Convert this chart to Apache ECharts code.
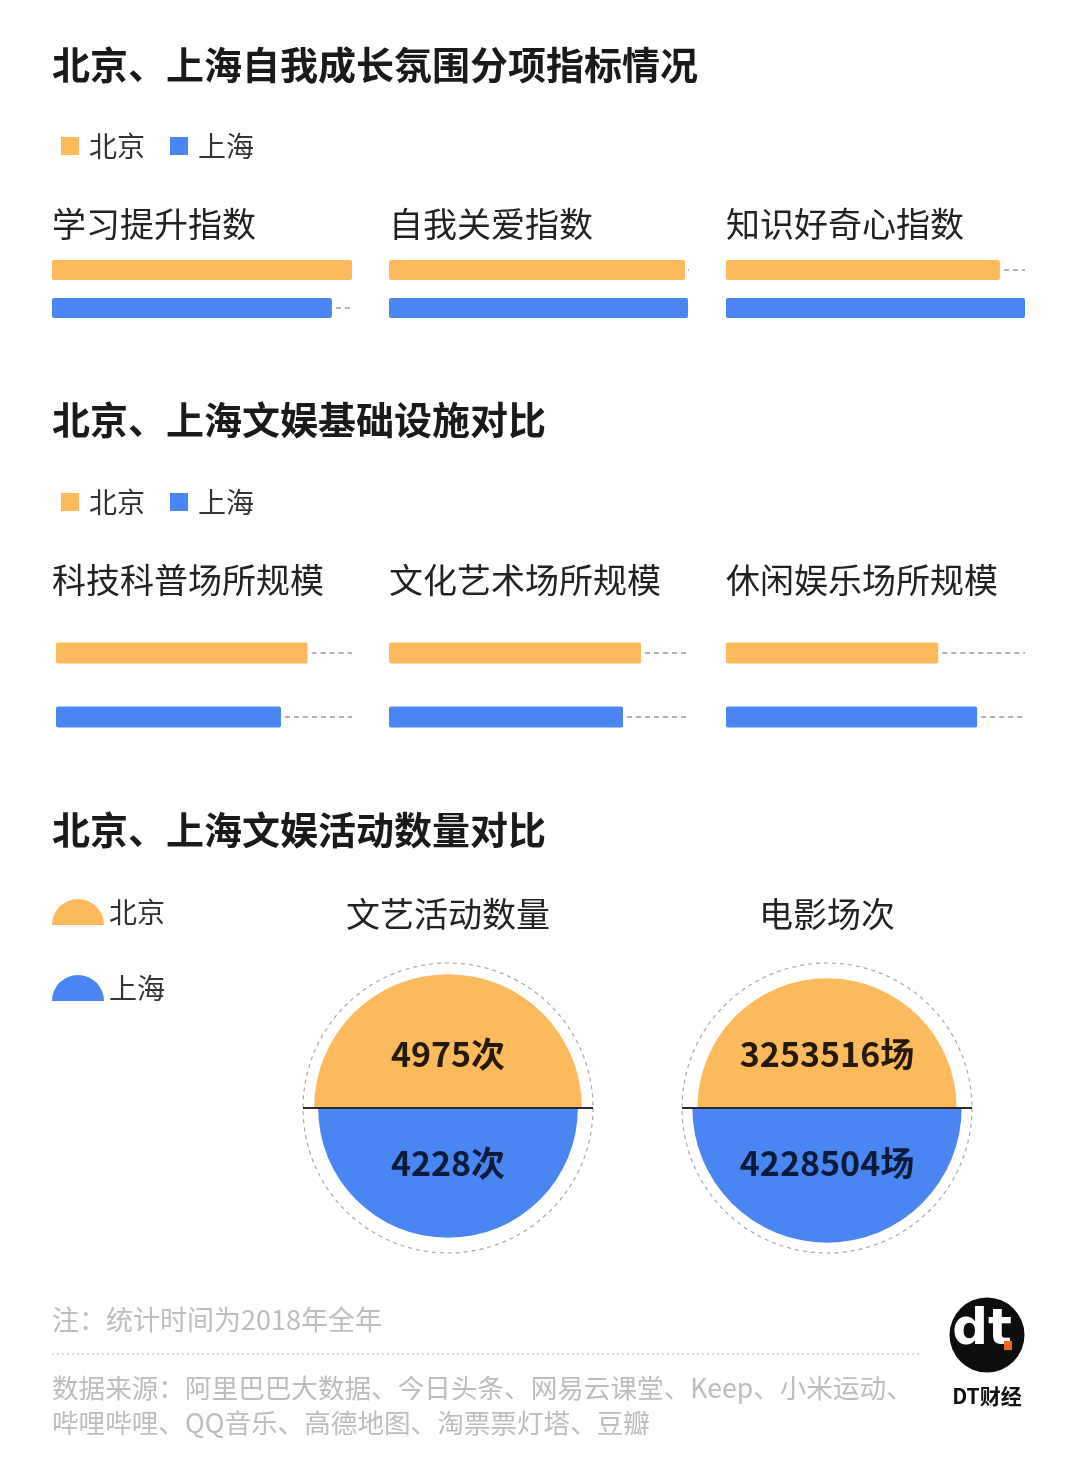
<!DOCTYPE html>
<html><head><meta charset="utf-8">
<script src="https://cdn.jsdelivr.net/npm/echarts@6/dist/echarts.min.js"></script>
<style>html,body{margin:0;padding:0;background:#fff}#c{width:1080px;height:1465px}</style>
</head><body><div id="c"></div>
<script>
// ---------------- data ----------------
const cities = ['北京', '上海'];
const growthIndicators = ['学习提升指数', '自我关爱指数', '知识好奇心指数'];
const growthBeijing = [100, 99, 91.6];
const growthShanghai = [93.3, 100, 100];
const facilityIndicators = ['科技科普场所规模', '文化艺术场所规模', '休闲娱乐场所规模'];
const facilityBeijing = [85, 84, 71];
const facilityShanghai = [76, 78, 84];
const activityIndicators = ['文艺活动数量', '电影场次'];
const activityUnits = ['次', '场'];
const activityBeijing = [4975, 3253516];
const activityShanghai = [4228, 4228504];
const indexMax = 100;
const sectionTitles = ['北京、上海自我成长氛围分项指标情况', '北京、上海文娱基础设施对比', '北京、上海文娱活动数量对比'];
const noteText = '注：统计时间为2018年全年';
const sourceLines = ['数据来源：阿里巴巴大数据、今日头条、网易云课堂、Keep、小米运动、', '哔哩哔哩、QQ音乐、高德地图、淘票票灯塔、豆瓣'];

// ---------------- style / layout ----------------
const FONT = '"Noto Sans CJK SC","Noto Sans",sans-serif';
const ORANGE = '#FDBA5C';
const BLUE = '#4A86F2';
const cityColors = [ORANGE, BLUE];

const grid = [], xAxis = [], yAxis = [], series = [];

function dashItem(params, api) {
  const v = api.value(0), c = api.value(1);
  if (v >= indexMax) return null;
  const s = api.coord([v, c]);
  const e = api.coord([indexMax, c]);
  return {
    type: 'line',
    shape: { x1: s[0] + 4, y1: s[1], x2: e[0], y2: e[1] },
    style: { stroke: '#9b9b9b', lineWidth: 1.3, lineDash: [5, 4] }
  };
}

function addBarGroup(left, width, top, height, barWidth, bj, sh) {
  const gi = grid.length;
  grid.push({ left: left, top: top, width: width, height: height });
  xAxis.push({ gridIndex: gi, type: 'value', min: 0, max: indexMax, show: false });
  yAxis.push({ gridIndex: gi, type: 'category', data: cities, inverse: true, show: false });
  series.push({
    type: 'bar', name: cities[0], xAxisIndex: gi, yAxisIndex: gi,
    data: [bj, null], barWidth: barWidth, barGap: '-100%',
    itemStyle: { color: ORANGE, borderRadius: 2 }
  });
  series.push({
    type: 'bar', name: cities[1], xAxisIndex: gi, yAxisIndex: gi,
    data: [null, sh], barWidth: barWidth, barGap: '-100%',
    itemStyle: { color: BLUE, borderRadius: 2 }
  });
  series.push({
    type: 'custom', xAxisIndex: gi, yAxisIndex: gi, silent: true,
    encode: { x: 0, y: 1 },
    data: [[bj, 0], [sh, 1]],
    renderItem: dashItem
  });
}

const cols1 = [[52, 300], [389, 299], [726, 299]];
growthIndicators.forEach((n, i) => addBarGroup(cols1[i][0], cols1[i][1], 251, 76, 20, growthBeijing[i], growthShanghai[i]));
const cols2 = [[56, 296], [389, 300], [726, 299]];
facilityIndicators.forEach((n, i) => addBarGroup(cols2[i][0], cols2[i][1], 621, 128, 21, facilityBeijing[i], facilityShanghai[i]));

// semicircle section
const halfLayouts = [
  { cx: 448, min: -20000, max: 5000, width: 134 },
  { cx: 827, min: -22000000, max: 4300000, width: 135 }
];
const CY = 1108, RING = 145;

function halfRender(isTop, unit) {
  return function (params, api) {
    const cs = params.coordSys;
    const cx = cs.x, cy = cs.y + cs.height;
    const v = api.value(0);
    const r = api.coord([v, 0])[0] - cx;
    const color = api.visual('color');
    const children = [{
      type: 'sector',
      shape: { cx: cx, cy: cy, r0: 0, r: r,
        startAngle: isTop ? Math.PI : 0, endAngle: isTop ? Math.PI * 2 : Math.PI, clockwise: true },
      style: { fill: color }
    }];
    if (!isTop) {
      children.push({
        type: 'circle', shape: { cx: cx, cy: cy, r: RING },
        style: { fill: 'none', stroke: '#a8a8a8', lineWidth: 1.2, lineDash: [4, 4] }
      });
      children.push({
        type: 'line', shape: { x1: cx - RING, y1: cy, x2: cx + RING, y2: cy },
        style: { stroke: '#2a2a2a', lineWidth: 2 }
      });
    }
    children.push({
      type: 'text', x: cx, y: isTop ? cy - 54 : cy + 55,
      style: { text: v + unit, fill: isTop ? '#24190c' : '#0b1a38',
        fontSize: 34, fontWeight: 'bold', fontFamily: FONT, align: 'center', verticalAlign: 'middle' }
    });
    return { type: 'group', children: children };
  };
}

activityIndicators.forEach((n, i) => {
  const L = halfLayouts[i];
  const gi = grid.length;
  grid.push({ left: L.cx, top: CY - 100, width: L.width, height: 100 });
  xAxis.push({ gridIndex: gi, type: 'value', min: L.min, max: L.max, show: false });
  yAxis.push({ gridIndex: gi, type: 'value', min: 0, max: 1, show: false });
  [activityBeijing, activityShanghai].forEach((arr, ci) => {
    series.push({
      type: 'custom', name: cities[ci], xAxisIndex: gi, yAxisIndex: gi, clip: false,
      itemStyle: { color: cityColors[ci] },
      encode: { x: 0, y: 1 },
      data: [[arr[i], 0]],
      renderItem: halfRender(ci === 0, activityUnits[i])
    });
  });
});

// ---------------- texts ----------------
const graphic = [];
function txt(x, y, text, size, opts) {
  opts = opts || {};
  graphic.push({
    type: 'text', x: x, y: y, silent: true,
    style: { text: text, fontSize: size, fontFamily: FONT, fontWeight: opts.weight || 'normal',
      fill: opts.color || '#222', align: opts.align || 'left', verticalAlign: 'middle' }
  });
}
[65, 420, 830].forEach((y, i) => txt(52, y, sectionTitles[i], 38, { weight: 'bold', color: '#1a1a1a' }));
growthIndicators.forEach((t, i) => txt(cols1[i][0], 224, t, 34, { color: '#222' }));
facilityIndicators.forEach((t, i) => txt([52, 389, 726][i], 580, t, 34, { color: '#222' }));
activityIndicators.forEach((t, i) => txt(halfLayouts[i].cx, 914, t, 34, { color: '#222', align: 'center' }));
txt(52, 1320, noteText, 27, { color: '#bdbdbd' });
txt(52, 1388, sourceLines[0], 26.6, { color: '#bdbdbd' });
txt(52, 1423, sourceLines[1], 26.6, { color: '#bdbdbd' });
graphic.push({ type: 'line', silent: true, shape: { x1: 52, y1: 1354, x2: 922, y2: 1354 },
  style: { stroke: '#cfcfcf', lineWidth: 1.5, lineDash: [2, 3] } });
// logo
graphic.push({ type: 'circle', silent: true, shape: { cx: 987, cy: 1335, r: 37.5 }, style: { fill: '#0d0d0d' } });
graphic.push({ type: 'text', silent: true, x: 982, y: 1331,
  style: { text: 'dt', fill: '#fff', fontSize: 50, fontWeight: 900, fontFamily: '"DejaVu Sans",sans-serif', align: 'center', verticalAlign: 'middle' } });
graphic.push({ type: 'rect', silent: true, shape: { x: 1004, y: 1341, width: 8, height: 9 }, style: { fill: '#F26A21' } });
txt(987, 1396, 'DT财经', 21, { weight: 'bold', color: '#111', align: 'center' });

const legendText = { fontSize: 28, color: '#333', fontFamily: FONT, padding: [0, 0, 0, 5] };
const option = {
  backgroundColor: '#ffffff',
  animation: false,
  grid: grid, xAxis: xAxis, yAxis: yAxis, series: series,
  legend: [
    { left: 61, top: 132, padding: 0, icon: 'rect', itemWidth: 18, itemHeight: 18, itemGap: 25, data: cities, textStyle: legendText, selectedMode: false },
    { left: 61, top: 488, padding: 0, icon: 'rect', itemWidth: 18, itemHeight: 18, itemGap: 25, data: cities, textStyle: legendText, selectedMode: false },
    { left: 52, top: 898, padding: 0, orient: 'vertical', icon: 'path://M0,26 A26,26 0 0 1 52,26 Z', itemWidth: 52, itemHeight: 26, itemGap: 48, data: cities, textStyle: { fontSize: 28, color: '#333', fontFamily: FONT }, selectedMode: false }
  ],
  graphic: graphic
};
echarts.init(document.getElementById('c')).setOption(option);
</script></body></html>
